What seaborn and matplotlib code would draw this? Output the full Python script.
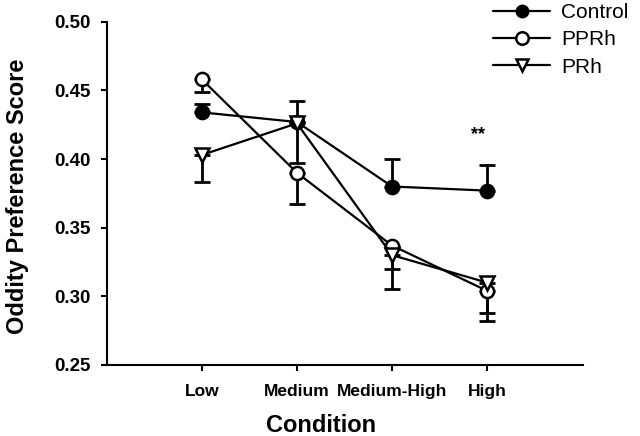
import numpy as np
import pandas as pd
import matplotlib
matplotlib.use("Agg")
import matplotlib.pyplot as plt
from matplotlib.lines import Line2D
import seaborn as sns

# ── Data ────────────────────────────────────────────────────────────────────
conditions = ["Low", "Medium", "Medium-High", "High"]
groups = ["Control", "PPRh", "PRh"]

control = [0.434, 0.427, 0.380, 0.377]
control_err = [0.006, 0.015, 0.020, 0.019]   # drawn upward only

pprh = [0.458, 0.390, 0.337, 0.304]
pprh_err = [0.009, 0.023, 0.017, 0.016]      # drawn downward only

prh = [0.403, 0.426, 0.330, 0.310]
prh_err = [0.020, 0.029, 0.025, 0.028]       # drawn downward only

means = {"Control": control, "PPRh": pprh, "PRh": prh}
errs = {"Control": control_err, "PPRh": pprh_err, "PRh": prh_err}
err_dir = {"Control": "up", "PPRh": "down", "PRh": "down"}

df = pd.DataFrame({
    "Condition": conditions * len(groups),
    "x": list(range(len(conditions))) * len(groups),
    "Group": [g for g in groups for _ in conditions],
    "Score": control + pprh + prh,
})

sns.set_style("ticks", {"text.color": "black", "axes.labelcolor": "black",
                        "xtick.color": "black", "ytick.color": "black",
                        "axes.edgecolor": "black"})
plt.rcParams["font.family"] = ["Liberation Sans", "DejaVu Sans"]

fig = plt.figure(figsize=(6.4, 4.36), dpi=100)
ax = fig.add_axes([0.167, 0.163, 0.744, 0.787])

# ── Error bars (one-sided) ──────────────────────────────────────────────────
xs = np.arange(len(conditions))
for g in groups:
    e = np.array(errs[g])
    zero = np.zeros_like(e)
    yerr = [zero, e] if err_dir[g] == "up" else [e, zero]
    ax.errorbar(xs, means[g], yerr=yerr, fmt="none", ecolor="black",
                elinewidth=2, capsize=6, capthick=2, zorder=2)

# ── Lines + markers ─────────────────────────────────────────────────────────
sns.lineplot(
    data=df, x="x", y="Score", style="Group", style_order=groups,
    markers={"Control": "o", "PPRh": "o", "PRh": "v"},
    dashes=False, color="black", linewidth=1.6, markersize=9.5,
    markeredgewidth=1.8, ax=ax, zorder=3, legend=False,
)
# marker faces: filled for Control, open for lesion groups
for line, g in zip(ax.get_lines()[-len(groups):], groups):
    line.set_markerfacecolor("black" if g == "Control" else "white")
    line.set_markeredgecolor("black")

# ── Significance marker ─────────────────────────────────────────────────────
ax.text(2.9, 0.418, "**", ha="center", va="center", fontsize=13,
        fontweight="bold")

# ── Axes styling ────────────────────────────────────────────────────────────
ax.set_xlim(-1, 4.01)
ax.set_ylim(0.25, 0.50)
ax.set_xticks(xs)
ax.set_xticklabels(conditions, fontsize=12.5, fontweight="bold")
yt = np.arange(0.25, 0.501, 0.05)
ax.set_yticks(yt)
ax.set_yticklabels([f"{v:.2f}" for v in yt], fontsize=13.5, fontweight="bold")
ax.tick_params(axis="both", direction="out", length=4, width=1.5)
ax.tick_params(axis="x", pad=10)
ax.tick_params(axis="y", pad=8)
for side in ["top", "right"]:
    ax.spines[side].set_visible(False)
for side in ["left", "bottom"]:
    ax.spines[side].set_linewidth(1.5)

ax.set_xlabel("Condition", fontsize=17, fontweight="bold")
ax.xaxis.set_label_coords(0.45, -0.143)
ax.set_ylabel("Oddity Preference Score", fontsize=17, fontweight="bold")
ax.yaxis.set_label_coords(-0.163, 0.49)

# ── Legend (top right, outside axes) ────────────────────────────────────────
handles = [
    Line2D([], [], color="black", lw=1.6, marker="o", markersize=9,
           markerfacecolor="black", markeredgecolor="black"),
    Line2D([], [], color="black", lw=1.6, marker="o", markersize=9,
           markerfacecolor="white", markeredgecolor="black", markeredgewidth=1.8),
    Line2D([], [], color="black", lw=1.6, marker="v", markersize=9,
           markerfacecolor="white", markeredgecolor="black", markeredgewidth=1.8),
]
fig.legend(handles, groups, loc="upper left", bbox_to_anchor=(0.758, 1.012),
           frameon=False, fontsize=15, handlelength=2.7, handletextpad=0.55,
           labelspacing=0.4, borderaxespad=0)

fig.savefig("out.png", dpi=100)
